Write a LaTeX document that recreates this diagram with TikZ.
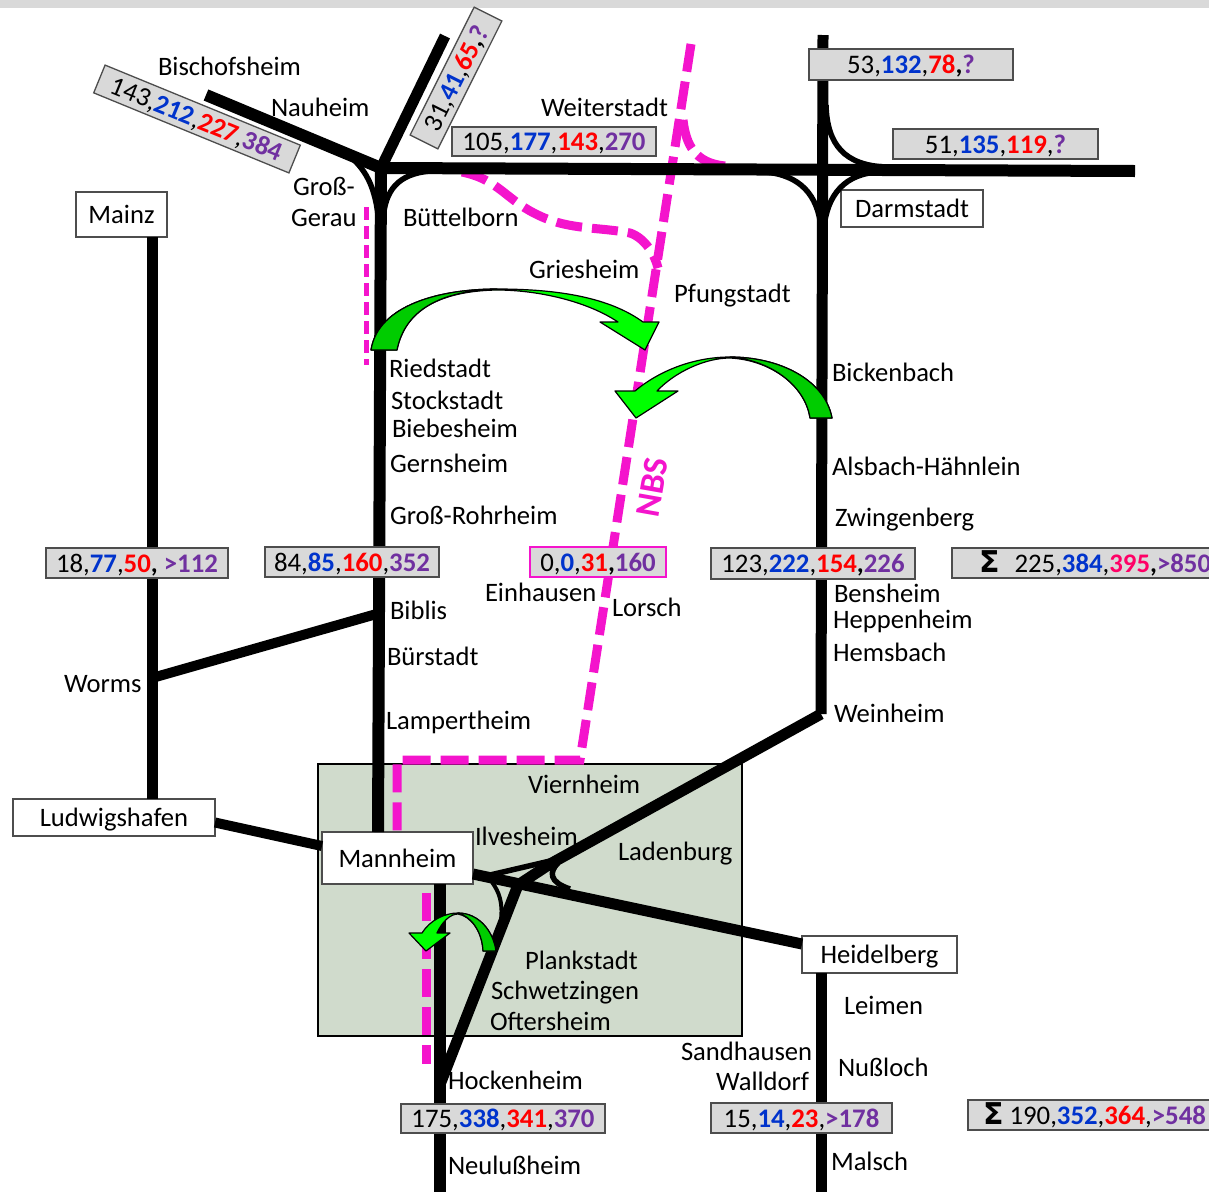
\documentclass[tikz,border=0pt]{standalone}
\usepackage{fontspec}
\setmainfont{Carlito}
\definecolor{nblue}{HTML}{0033CC}
\definecolor{nred}{HTML}{FF0000}
\definecolor{npurple}{HTML}{7030A0}
\definecolor{npink}{HTML}{FF0066}
\definecolor{nbs}{HTML}{F414CC}
\definecolor{zone}{HTML}{D0DBCC}
\definecolor{boxgray}{HTML}{D9D9D9}
\definecolor{boxline}{HTML}{4D4D4D}
\definecolor{gfront}{HTML}{00FF00}
\definecolor{gback}{HTML}{00CC00}
\newcommand{\nb}[1]{{\bfseries\color{nblue}#1}}
\newcommand{\nr}[1]{{\bfseries\color{nred}#1}}
\newcommand{\np}[1]{{\bfseries\color{npurple}#1}}
\newcommand{\npk}[1]{{\bfseries\color{npink}#1}}
\newcommand{\bc}{{\bfseries,}}
\tikzset{
  lbl/.style={inner sep=0pt,outer sep=0pt,anchor=base west,yshift=-0.8pt,font=\fontsize{26.6}{26.6}\selectfont},
  rail/.style={line width=12pt,black},
  railmid/.style={line width=11pt,black},
  railthin/.style={line width=5.5pt,black},
  nbsline/.style={line width=9pt,nbs,dash pattern=on 28pt off 10pt},
  nbsthin/.style={line width=5pt,nbs,dash pattern=on 13pt off 6pt},
  numbox/.style={draw=boxline,line width=1.3pt,fill=boxgray,inner sep=0pt,outer sep=0pt,align=center,text height=18pt,text depth=0pt,font=\fontsize{26.8}{26.8}\selectfont},
  city/.style={draw=boxline,line width=1.3pt,fill=white,inner sep=0pt,outer sep=0pt,align=center,text height=18pt,text depth=0pt,font=\fontsize{26.6}{26.6}\selectfont},
  arrowfront/.style={fill=gfront,draw=black,line width=1.2pt,line join=round},
  arrowback/.style={fill=gback,draw=black,line width=1.2pt,line join=round},
}
\begin{document}
\begin{tikzpicture}[x=1pt,y=-1pt]
\useasboundingbox (0,0) rectangle (1209,1192);
\clip (0,0) rectangle (1209,1192);
\fill[boxgray] (0,0) rectangle (1209,8);
% zone
\node[draw=black,line width=2pt,fill=zone,minimum width=424pt,minimum height=272pt,inner sep=0pt,outer sep=0pt] (zone) at (530,900) {};
% junction coordinates
\coordinate (jN) at (381,168);
\coordinate (jBis) at (206,95);
\coordinate (jNorth) at (445,36);
\coordinate (jE) at (1135,171);
\coordinate (jDaN) at (823,35);
\coordinate (jWein) at (821,714);
\coordinate (jWorms) at (152,678);
\coordinate (jBib) at (380,613);
\coordinate (jHock) at (441,1082);
\coordinate (jA) at (518,885);
\coordinate (jB) at (550,864);
\coordinate (jS) at (440,1192);
\coordinate (jMal) at (821,1192);
\coordinate (nT) at (691,44);
\coordinate (nM) at (580,760);
\coordinate (nC) at (397,760);
\coordinate (nD) at (397,832);
\coordinate (nK) at (426,893);
\coordinate (nL) at (426,1064);
\coordinate (gT) at (366,207);
\coordinate (gB) at (366,365);
% city boxes
\node[city,minimum width=91pt,minimum height=45pt] (mainz) at (121.5,214.5) {Mainz};
\node[city,minimum width=142pt,minimum height=37pt] (darm) at (912,208.5) {Darmstadt};
\node[city,minimum width=202pt,minimum height=37pt] (lu) at (114,817.5) {Ludwigshafen};
\node[city,minimum width=151pt,minimum height=52pt] (ma) at (397.5,858) {Mannheim};
\node[city,minimum width=155pt,minimum height=37pt] (hd) at (879.5,954.5) {Heidelberg};
% dashed new line
\draw[nbsline] (nT) -- (nM) -- (nC) -- (nD);
\draw[nbsline] (nK) -- (nL);
\draw[nbsthin] (gT) -- (gB);
\draw[nbsline,dash pattern=on 30pt off 9pt] (683,120) .. controls (686,145) and (695,163) .. (725,166);
\draw[nbsline,dash pattern=on 26pt off 10pt] (462,172) .. controls (500,180) and (505,200) .. (540,216) .. controls (570,230) and (600,227) .. (630,233) .. controls (645,238) and (655,255) .. (658,268);
% rail lines
\draw[railmid] (mainz.south -| jWorms) -- (lu.north -| jWorms);
\draw[rail] (jN) -- (ma.north -| 378,0);
\draw[rail] (jBis) -- (jN);
\draw[railmid] (jNorth) -- (jN);
\draw[rail] (jN) -- (jE);
\draw[railmid] (jDaN) -- (jWein);
\draw[railmid,line width=10pt] (jWorms) -- (jBib);
\draw[railmid,line width=10pt] (lu.east) ++(0,5) -- (ma.west |- 0,846);
\draw[railmid] (ma.east |- 0,874) -- (hd.west |- 0,944);
\draw[rail] (ma.south -| jS) -- (jS);
\draw[railmid] (jHock) -- (jA) -- (jB) -- (jWein);
\draw[railmid] (hd.south -| jMal) -- (jMal);
% curved connecting tracks
\draw[railthin] (345,152) .. controls (365,168) and (376,185) .. (379,225);
\draw[railthin] (383,220) .. controls (385,190) and (398,174) .. (430,171);
\draw[railthin] (826,105) .. controls (827,145) and (845,165) .. (885,167);
\draw[railthin] (765,172) .. controls (800,175) and (818,195) .. (821,228);
\draw[railthin] (880,172) .. controls (845,173) and (827,195) .. (824,228);
\draw[railthin] (490,875) -- (550,861);
\draw[railthin,line width=4pt] (492,882) .. controls (499,892) and (503,902) .. (501,920);
\draw[railthin] (558,863) .. controls (549,872) and (549,882) .. (570,889);
% green arrows
\draw[arrowfront] (371,350) .. controls (378,305) and (440,289) .. (497,289) .. controls (560,289) and (610,298) .. (643,322) -- (659,322) -- (645,350) -- (600,322) -- (618,322) .. controls (585,300) and (535,290) .. (497,290) .. controls (440,291) and (405,310) .. (397,350) -- cycle;
\draw[arrowback] (371,350) .. controls (378,305) and (440,289) .. (497,289) .. controls (440,291) and (405,310) .. (397,350) -- cycle;
\draw[arrowfront] (832,418) .. controls (825,380) and (780,357) .. (730,357) .. controls (695,357) and (660,370) .. (635,391) -- (615,391) -- (636,418) -- (678,391) -- (657,391) .. controls (675,372) and (705,358) .. (730,358) .. controls (770,360) and (805,385) .. (810,418) -- cycle;
\draw[arrowback] (832,418) .. controls (825,380) and (780,357) .. (730,357) .. controls (770,360) and (805,385) .. (810,418) -- cycle;
\draw[arrowfront] (496,951) .. controls (493,930) and (478,913) .. (458,913) .. controls (445,913) and (430,920) .. (422,933) -- (409,933) -- (426,951) -- (450,933) -- (437,933) .. controls (442,922) and (450,914) .. (458,914) .. controls (470,916) and (482,930) .. (483,951) -- cycle;
\draw[arrowback] (496,951) .. controls (493,930) and (478,913) .. (458,913) .. controls (470,916) and (482,930) .. (483,951) -- cycle;
% number boxes
\node[numbox,minimum width=211pt,minimum height=30pt,rotate=-22.3] (b143) at (197,119) {143,\nb{212},\nr{227},\np{384}};
\node[numbox,minimum width=143pt,minimum height=31pt,rotate=63.4] (b31) at (456,78) {31,\nb{41},\nr{65}\bc\np{?}};
\node[numbox,minimum width=204pt,minimum height=29pt] (b105) at (554,141.5) {105,\nb{177},\nr{143},\np{270}};
\node[numbox,minimum width=204pt,minimum height=31pt] (b53) at (911,64.5) {53,\nb{132},\nr{78}\bc\np{?}};
\node[numbox,minimum width=205pt,minimum height=30pt] (b51) at (995.5,144) {51,\nb{135},\nr{119},\np{?}};
\node[numbox,minimum width=182pt,minimum height=30pt] (b18) at (137,563) {18,\nb{77},\nr{50}\bc{} \np{>112}};
\node[numbox,minimum width=174pt,minimum height=30pt] (b84) at (352,562) {84,\nb{85},\nr{160},\np{352}};
\node[numbox,draw=nbs,line width=2pt,minimum width=136pt,minimum height=30pt] (b0) at (598,562) {0,\nb{0},\nr{31}\bc\np{160}};
\node[numbox,minimum width=204pt,minimum height=31pt] (b123) at (813,563.5) {123,\nb{222},\nr{154}\bc\np{226}};
\node[numbox,minimum height=30pt,anchor=west,align=left,text width=275pt] (bS1) at (952,563) {\hspace{27pt}{\bfseries\fontsize{30}{30}\selectfont\fontspec{DejaVu Sans}Σ}\hspace{15pt}225,\nb{384},\npk{395}\bc\np{>850}};
\node[numbox,minimum width=204pt,minimum height=29pt] (b175) at (503,1118.5) {175,\nb{338},\nr{341},\np{370}};
\node[numbox,minimum width=181pt,minimum height=30pt] (b15) at (801.5,1118) {15,\nb{14},\nr{23},\np{>178}};
\node[numbox,minimum height=30pt,anchor=west,align=left,text width=260pt] (bS2) at (968,1115) {\hspace{15pt}{\bfseries\fontsize{30}{30}\selectfont\fontspec{DejaVu Sans}Σ}\hspace{6pt}190,\nb{352},\nr{364},\np{>548}};
% NBS label
\node[inner sep=0pt,outer sep=0pt,rotate=80,text=nbs,font=\bfseries\fontsize{35}{35}\selectfont] (lnbs) at (652,487) {NBS};
% labels
\node[lbl] (l01) at (158,75) {Bischofsheim};
\node[lbl] (l02) at (271,116) {Nauheim};
\node[lbl] (l03) at (541,116) {Weiterstadt};
\node[lbl] (l04) at (293,195) {Groß-};
\node[lbl] (l05) at (291,226) {Gerau};
\node[lbl] (l06) at (403,226) {Büttelborn};
\node[lbl] (l07) at (529,278) {Griesheim};
\node[lbl] (l08) at (674,302) {Pfungstadt};
\node[lbl] (l09) at (389,377) {Riedstadt};
\node[lbl] (l10) at (391,409) {Stockstadt};
\node[lbl] (l11) at (392,437) {Biebesheim};
\node[lbl] (l12) at (390,472) {Gernsheim};
\node[lbl] (l13) at (390,524) {Groß-Rohrheim};
\node[lbl] (l14) at (832,381) {Bickenbach};
\node[lbl] (l15) at (832,475) {Alsbach-Hähnlein};
\node[lbl] (l16) at (835,526) {Zwingenberg};
\node[lbl] (l17) at (834,602) {Bensheim};
\node[lbl] (l18) at (833,628) {Heppenheim};
\node[lbl] (l19) at (833,661) {Hemsbach};
\node[lbl] (l20) at (834,722) {Weinheim};
\node[lbl] (l21) at (390,619) {Biblis};
\node[lbl] (l22) at (387,665) {Bürstadt};
\node[lbl] (l23) at (386,729) {Lampertheim};
\node[lbl] (l24) at (485,601) {Einhausen};
\node[lbl] (l25) at (612,616) {Lorsch};
\node[lbl] (l26) at (64,692) {Worms};
\node[lbl] (l27) at (528,793) {Viernheim};
\node[lbl] (l28) at (475,845) {Ilvesheim};
\node[lbl] (l29) at (618,860) {Ladenburg};
\node[lbl] (l30) at (525,969) {Plankstadt};
\node[lbl] (l31) at (491,999) {Schwetzingen};
\node[lbl] (l32) at (490,1030) {Oftersheim};
\node[lbl] (l33) at (844,1014) {Leimen};
\node[lbl] (l34) at (838,1076) {Nußloch};
\node[lbl] (l35) at (681,1060) {Sandhausen};
\node[lbl] (l36) at (716,1090) {Walldorf};
\node[lbl] (l37) at (448,1089) {Hockenheim};
\node[lbl] (l38) at (448,1174) {Neulußheim};
\node[lbl] (l39) at (831,1170) {Malsch};
\end{tikzpicture}
\end{document}
